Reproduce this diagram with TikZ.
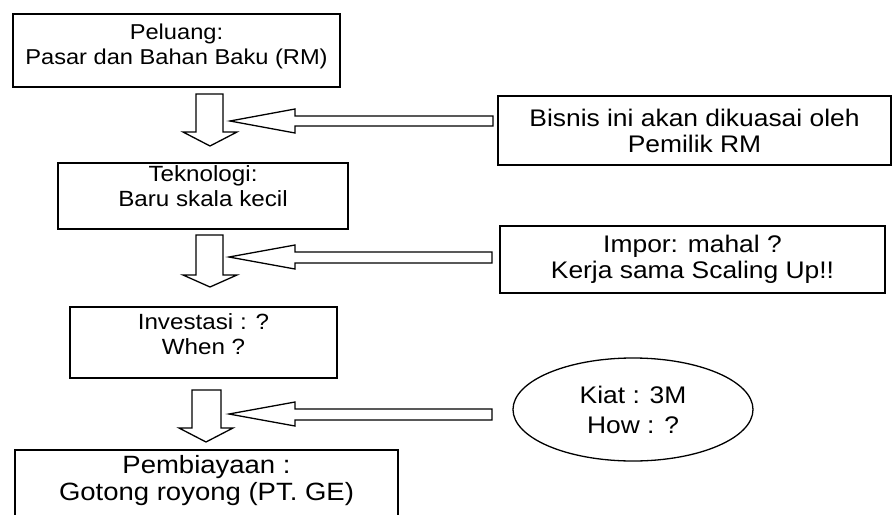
\documentclass[tikz,border=0pt]{standalone}
\usepackage{fontspec}
\setmainfont{Liberation Sans}[FakeStretch=1.1]
\usetikzlibrary{shapes.geometric}

\begin{document}
\begin{tikzpicture}[
    x=1pt, y=-1pt,
    box/.style={draw, line width=1.3pt, align=center, inner sep=0pt, font=\fontsize{22}{25}\selectfont},
    leftbox/.style={box, text depth=#1},
    sidebox/.style={box, font=\fontsize{24}{26}\selectfont},
    oval/.style={draw, ellipse, line width=1.3pt, align=center, inner sep=0pt, font=\fontsize{24}{30}\selectfont},
    blockarrow/.style={draw, line width=1.3pt, line join=miter, fill=white}
]

\useasboundingbox (0,0) rectangle (894,514);
\clip (0,0) rectangle (894,514);

% Boxes on the left, top to bottom
\node[leftbox=13pt, minimum width=327pt, minimum height=73pt, font=\fontsize{21.5}{25}\selectfont] (peluang) at (176.5,50.5) {Peluang:\\Pasar dan Bahan Baku (RM)};
\node[leftbox=19pt, minimum width=290pt, minimum height=66pt] (tekno) at (203,196) {Teknologi:\\Baru skala kecil};
\node[leftbox=16pt, minimum width=267pt, minimum height=71pt] (invest) at (203.5,342.5) {Investasi : ?\\When ?};
\node[leftbox=25pt, minimum width=383pt, minimum height=80pt, font=\fontsize{25}{27}\selectfont] (biaya) at (206.5,490) {Pembiayaan :\\Gotong royong (PT. GE)};

% Boxes on the right
\node[sidebox, minimum width=393pt, minimum height=69pt] (bisnis) at (694.5,130.5) {Bisnis ini akan dikuasai oleh\\Pemilik RM};
\node[sidebox, minimum width=385pt, minimum height=67pt] (impor) at (692.5,259.5) {Impor: mahal ?\\Kerja sama Scaling Up!!};
\node[oval, minimum width=240pt, minimum height=103pt] (kiat) at (633,409.5) {Kiat : 3M\\How : ?};

% Block arrows down the chain
\draw[blockarrow] (196,94) -- (223,94) -- (223,132) -- (237,132) -- (210,146) -- (183,132) -- (196,132) -- cycle;
\draw[blockarrow] (196,235) -- (223,235) -- (223,275) -- (237,275) -- (210,287) -- (183,275) -- (196,275) -- cycle;
\draw[blockarrow] (192,390) -- (221,390) -- (221,428) -- (233,428) -- (206,442) -- (179,428) -- (192,428) -- cycle;

% Block arrows coming in from the right
\draw[blockarrow] (493,116) -- (295,116) -- (295,109) -- (230,121) -- (295,133) -- (295,126) -- (493,126) -- cycle;
\draw[blockarrow] (492,252) -- (295,252) -- (295,245) -- (229,257) -- (295,269) -- (295,263) -- (492,263) -- cycle;
\draw[blockarrow] (492,409) -- (295,409) -- (295,402) -- (229,414) -- (295,426) -- (295,420) -- (492,420) -- cycle;

\end{tikzpicture}
\end{document}
